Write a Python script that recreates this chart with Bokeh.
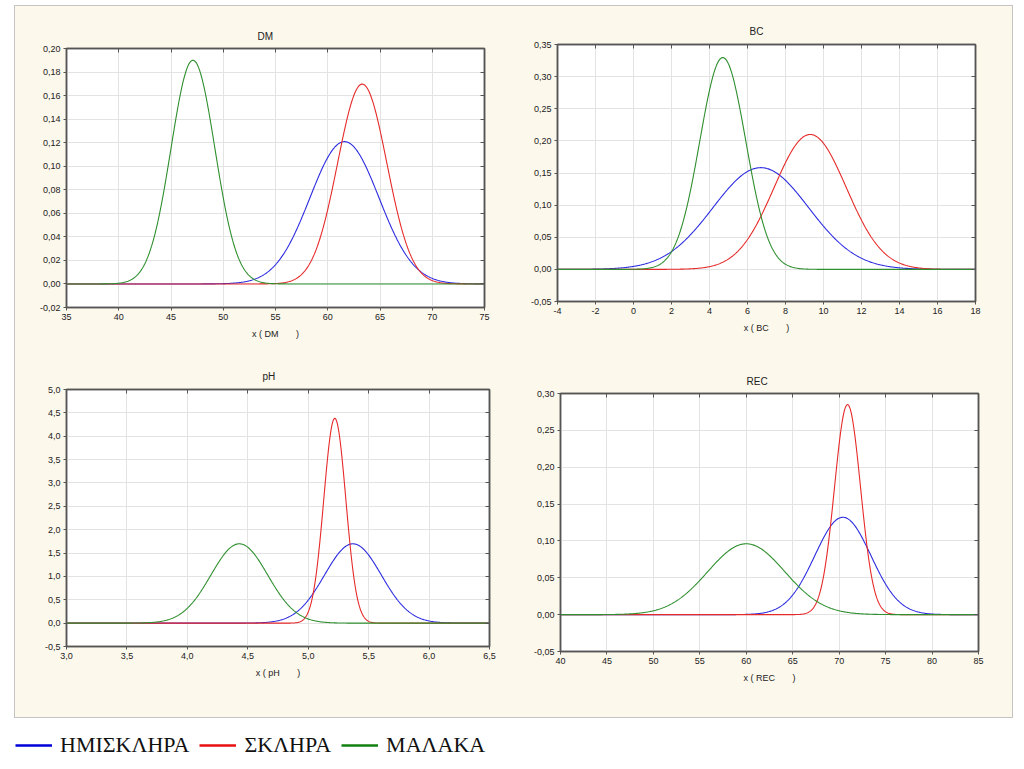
import numpy as np
from bokeh.plotting import figure
from bokeh.models import (ColumnDataSource, FixedTicker, CustomJSTickFormatter, LinearAxis,
                          Range1d, Legend, LegendItem)
from bokeh.layouts import column, row
from bokeh.embed import file_html
from bokeh.resources import INLINE

# ---------------- data ----------------
groups = ["ΗΜΙΣΚΛΗΡΑ", "ΣΚΛΗΡΑ", "ΜΑΛΑΚΑ"]
curve_colors = ["#2b2be0", "#e62a2a", "#2f8f2f"]
legend_colors = ["#0000d8", "#e81010", "#108010"]

# fitted normal curves (mean, standard deviation) per group, read from peaks
dm_mean = [61.6, 63.3, 47.1]
dm_sd = [3.30, 2.35, 2.10]
bc_mean = [6.7, 9.3, 4.7]
bc_sd = [2.52, 1.90, 1.21]
ph_mean = [5.37, 5.22, 4.43]
ph_sd = [0.235, 0.091, 0.235]
rec_mean = [70.4, 70.9, 60.0]
rec_sd = [3.02, 1.40, 4.15]

dm_xticks = [35, 40, 45, 50, 55, 60, 65, 70, 75]
dm_yticks = [-0.02, 0.0, 0.02, 0.04, 0.06, 0.08, 0.10, 0.12, 0.14, 0.16, 0.18, 0.20]
bc_xticks = [-4, -2, 0, 2, 4, 6, 8, 10, 12, 14, 16, 18]
bc_yticks = [-0.05, 0.0, 0.05, 0.10, 0.15, 0.20, 0.25, 0.30, 0.35]
ph_xticks = [3.0, 3.5, 4.0, 4.5, 5.0, 5.5, 6.0, 6.5]
ph_yticks = [-0.5, 0.0, 0.5, 1.0, 1.5, 2.0, 2.5, 3.0, 3.5, 4.0, 4.5, 5.0]
rec_xticks = [40, 45, 50, 55, 60, 65, 70, 75, 80, 85]
rec_yticks = [-0.05, 0.0, 0.05, 0.10, 0.15, 0.20, 0.25, 0.30]

CREAM = "#fdf8ec"
AXC = "#555555"
FONT = "Liberation Sans"
NB = "\u00a0"


def fmt(dec):
    return CustomJSTickFormatter(code=f"return tick.toFixed({dec}).replace('.', ',');")


def panel(name, means, sds, xticks, yticks, xdec, ydec, width, height,
          bl, br, bt, bb, title_off, title_standoff):
    xr = Range1d(xticks[0], xticks[-1])
    yr = Range1d(yticks[0], yticks[-1])
    p = figure(width=width, height=height, x_range=xr, y_range=yr,
               output_backend="svg", toolbar_location=None,
               min_border_left=bl, min_border_right=br,
               min_border_top=bt, min_border_bottom=bb,
               background_fill_color="white", border_fill_color=CREAM,
               outline_line_color=AXC, outline_line_width=1.5)
    xs = np.linspace(xticks[0], xticks[-1], 600)
    for m, s, c in zip(means, sds, curve_colors):
        ys = np.exp(-0.5 * ((xs - m) / s) ** 2) / (s * np.sqrt(2 * np.pi))
        src = ColumnDataSource(dict(x=xs, y=ys))
        p.line("x", "y", source=src, line_color=c, line_width=1.1)

    xa = p.xaxis[0]
    ya = p.yaxis[0]
    xa.ticker = FixedTicker(ticks=xticks)
    ya.ticker = FixedTicker(ticks=yticks)
    xa.formatter = fmt(xdec)
    ya.formatter = fmt(ydec)
    for a in (xa, ya):
        a.major_tick_out = 3
        a.major_tick_in = 0
        a.minor_tick_out = 0
        a.minor_tick_in = 0
        a.axis_line_color = AXC
        a.axis_line_width = 1.5
        a.major_tick_line_color = AXC
        a.major_label_text_font = FONT
        a.major_label_text_font_size = "9px"
        a.major_label_text_color = "#222222"
        a.major_label_standoff = 3
    xa.axis_label = "x ( " + name + NB * 7 + ")"
    xa.axis_label_text_font = FONT
    xa.axis_label_text_font_size = "9px"
    xa.axis_label_text_font_style = "normal"
    xa.axis_label_text_color = "#222222"
    xa.axis_label_standoff = 6

    top = LinearAxis(ticker=FixedTicker(ticks=xticks),
                     formatter=CustomJSTickFormatter(code="return '';"))
    right = LinearAxis(ticker=FixedTicker(ticks=yticks),
                       formatter=CustomJSTickFormatter(code="return '';"))
    for a in (top, right):
        a.major_tick_in = 4
        a.major_tick_out = 0
        a.minor_tick_in = 0
        a.minor_tick_out = 0
        a.major_label_standoff = 0
        a.axis_line_color = AXC
        a.axis_line_width = 1.5
        a.major_tick_line_color = AXC
        a.major_label_text_font_size = "1px"
    p.add_layout(top, "above")
    p.add_layout(right, "right")

    p.grid.grid_line_color = "#e3e3e3"
    p.xgrid.ticker = FixedTicker(ticks=xticks)
    p.ygrid.ticker = FixedTicker(ticks=yticks)

    p.title.text = name
    p.title.align = "left"
    p.title.offset = title_off
    p.title.standoff = title_standoff
    p.title.text_font = FONT
    p.title.text_font_size = "10px"
    p.title.text_font_style = "normal"
    p.title.text_color = "#222222"
    return p


p1 = panel("DM", dm_mean, dm_sd, dm_xticks, dm_yticks, 0, 2, 497, 354,
           51, 28, 42, 53, 191, 14)
p2 = panel("BC", bc_mean, bc_sd, bc_xticks, bc_yticks, 0, 2, 500, 354,
           45, 37, 38, 59, 192, 16)
p3 = panel("pH", ph_mean, ph_sd, ph_xticks, ph_yticks, 1, 1, 497, 357,
           51, 23, 29, 71, 196, 16)
p4 = panel("REC", rec_mean, rec_sd, rec_xticks, rec_yticks, 0, 2, 500, 357,
           48, 34, 33, 66, 186, 14)

inner = column(row(column(p1), column(p2), spacing=0),
               row(column(p3), column(p4), spacing=0), spacing=0,
               styles={"border": "1px solid #c4c4c4", "background-color": CREAM,
                       "margin-left": "14px", "margin-top": "5px"})

leg = figure(width=1008, height=42, output_backend="svg", toolbar_location=None,
             min_border=0, x_range=Range1d(0, 1), y_range=Range1d(0, 1),
             x_axis_type=None, y_axis_type=None, outline_line_color=None,
             background_fill_color="white", border_fill_color="white")
leg.grid.visible = False
rs = [leg.line(x=[5, 6], y=[5, 6], line_color=c, line_width=2.5) for c in legend_colors]
legend = Legend(items=[LegendItem(label=g, renderers=[r]) for g, r in zip(groups, rs)],
                orientation="horizontal", location=(15, 2),
                border_line_color=None, background_fill_alpha=0,
                label_text_font="Liberation Serif", label_text_font_size="22px",
                label_text_color="#111111",
                glyph_width=37, glyph_height=20, label_standoff=8, spacing=10,
                padding=0, margin=0)
leg.add_layout(legend, "center")

layout = column(inner, leg, spacing=0)
open("out.html", "w").write(file_html(layout, INLINE))
